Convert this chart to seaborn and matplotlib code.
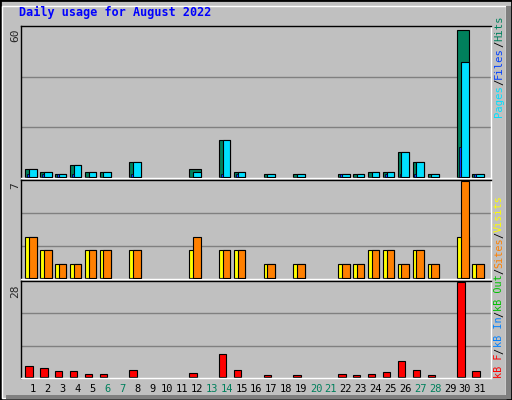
import numpy as np
import matplotlib
matplotlib.use("Agg")
import matplotlib.pyplot as plt
import seaborn as sns

sns.set_style("white")
plt.rcParams['font.family'] = ['DejaVu Sans Mono']

days = list(range(1, 32))
weekend = [6, 7, 13, 14, 20, 21, 27, 28]
hits  = [3,2,1,5,2,2,0,6,0,0,0,3,0,15,2,0,1,0,1,0,0,1,1,2,2,10,6,1,0,60,1]
files = [1,1,1,1,0,0,0,1,0,0,0,0,0,1,1,0,0,0,0,0,0,1,0,0,1,1,1,0,0,12,1]
pages = [3,2,1,5,2,2,0,6,0,0,0,2,0,15,2,0,1,0,1,0,0,1,1,2,2,10,6,1,0,47,1]
visits = [3,2,1,1,2,2,0,2,0,0,0,2,0,2,2,0,1,0,1,0,0,1,1,2,2,1,2,1,0,3,1]
sites  = [3,2,1,1,2,2,0,2,0,0,0,3,0,2,2,0,1,0,1,0,0,1,1,2,2,1,2,1,0,7,1]
kbytes = [3.2,2.6,1.9,1.9,1.0,1.0,0,2.2,0,0,0,1.3,0,6.8,2.2,0,0.7,0,0.7,0,0,1.0,0.7,1.0,1.6,4.7,2.2,0.7,0,28,1.9]

def nz(v):
    a = np.array(v, dtype=float)
    a[a == 0] = np.nan
    return a

W, H = 512, 400
fig = plt.figure(figsize=(5.12, 4.0), dpi=100)
fig.patch.set_facecolor('#C0C0C0')
fig.add_artist(plt.Rectangle((0, 0), 1, 1, transform=fig.transFigure, fill=False, ec='black', lw=2))
fig.add_artist(plt.Rectangle((2/W, 2/H), 1-8/W, 1-8/H, transform=fig.transFigure, fill=False, ec='white', lw=1))
fig.add_artist(plt.Rectangle((6/W, 1/H), 1-7/W, 4/H, transform=fig.transFigure, color='#808080', lw=0))
fig.add_artist(plt.Rectangle((1-6/W, 1/H), 5/W, 1-7/H, transform=fig.transFigure, color='#808080', lw=0))

fig.text(19/W, 1-12/H, "Daily usage for August 2022", color='#0000FF', fontsize=8.5,
         fontweight='bold', va='center', ha='left')

def mkax(top, bottom):
    ax = fig.add_axes([21/W, 1-bottom/H, 470/W, (bottom-top)/H])
    ax.set_facecolor('#C0C0C0')
    ax.set_xlim(0.2, 31.74)
    for s in ['left', 'top']:
        ax.spines[s].set_color('black')
    for s in ['right', 'bottom']:
        ax.spines[s].set_color('white')
    for s in ax.spines.values():
        s.set_linewidth(1)
    for f in (1/3, 2/3):
        ax.plot([0, 1], [f, f], transform=ax.transAxes, color='#808080', lw=1, zorder=0)
    ax.set_xticks([]); ax.set_yticks([])
    return ax

d = np.array(days)
ax1 = mkax(26, 178)
ax1.set_ylim(-0.5, 61.5)
ax1.bar(d - 0.52, nz(hits), width=0.77, align='edge', color='#00805C', ec='black', lw=0.8, zorder=2)
ax1.bar(d - 0.27, nz(pages), width=0.52, align='edge', color='#00E0FF', ec='black', lw=0.8, zorder=3)
ax1.bar(d - 0.40, nz(files), width=0.13, align='edge', color='#0040FF', ec='black', lw=0.5, zorder=4)

ax2 = mkax(180, 279)
ax2.set_ylim(-0.08, 7.1)
ax2.bar(d - 0.52, nz(visits), width=0.77, align='edge', color='#FFFF00', ec='black', lw=0.8, zorder=2)
ax2.bar(d - 0.27, nz(sites), width=0.52, align='edge', color='#FF8000', ec='black', lw=0.8, zorder=3)

ax3 = mkax(281, 378)
ax3.set_ylim(-0.25, 28.3)
ax3.bar(d - 0.52, nz(kbytes), width=0.50, align='edge', color='#FF0000', ec='black', lw=0.8, zorder=2)

for day in days:
    xf = (21 + (day - 0.2) / (31.74 - 0.2) * 470) / W
    fig.text(xf, 1-389/H, str(day), ha='center', va='center', fontsize=7.5,
             color='#00805C' if day in weekend else 'black')

for txt, y in [("60", 28), ("7", 182), ("28", 284)]:
    fig.text(15/W, 1-y/H, txt, rotation=90, ha='center', va='top', fontsize=8)

def stack(pieces, ybottom, size=7.5):
    adv = 0.602 * size * 100/72
    y = ybottom
    for s, c in pieces:
        fig.text(499/W, 1-y/H, s, rotation=90, ha='center', va='bottom', fontsize=size, color=c)
        y -= adv * len(s)

stack([("Pages", '#00E0FF'), ("/", 'black'), ("Files", '#0040FF'), ("/", 'black'), ("Hits", '#00805C')], 117, 7.6)
stack([("kB F", '#FF0000'), ("/", 'black'), ("kB In", '#0080FF'), ("/", 'black'), ("kB Out", '#00C000'),
       ("/", 'black'), ("Sites", '#FF8000'), ("/", 'black'), ("Visits", '#FFFF00')], 378, 7.3)

fig.savefig("out.png", dpi=100, facecolor=fig.get_facecolor())
